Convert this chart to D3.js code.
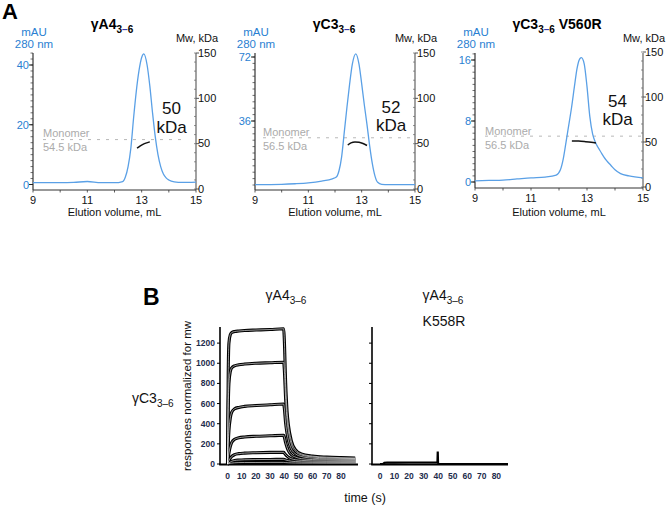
<!DOCTYPE html>
<html><head><meta charset="utf-8">
<script src="https://cdn.jsdelivr.net/npm/d3@7"></script>
<style>body{margin:0;background:#fff}svg{display:block;font-family:"Liberation Sans",Arial,sans-serif}</style>
</head><body><svg id="c" width="666" height="505"></svg>
<script>
// ================= DATA =================
// Panel A (SEC-MALS)
const elutionTicks = [9, 10, 11, 12, 13, 14, 15];
const elutionLabels = [9, 11, 13, 15];
const mwTicks = [0, 50, 100, 150];
const mwMinorTicks = d3.range(0, 151, 10);

const aTitles = [["γA4", "3–6", ""], ["γC3", "3–6", ""], ["γC3", "3–6", " V560R"]];
const aAbsTicks = [[0, 20, 40], [36, 72], [0, 8, 16]];
const aAbsMinor = [d3.range(0, 44.1, 2), d3.range(0, 74, 3.6), d3.range(0, 16.9, 0.8)];
const aMwLabels = ["50", "52", "54"];
const aMonomerLabels = ["54.5 kDa", "56.5 kDa", "56.5 kDa"];
const aMonomerKda = [54.5, 56.5, 56.5];

const p1Vol = [9, 10, 10.5, 11, 11.5, 12, 12.3, 12.4, 12.5, 12.6, 12.7, 12.8, 12.9, 13.0, 13.08, 13.2, 13.3, 13.4, 13.5, 13.6, 13.7, 13.8, 13.9, 14.0, 14.2, 14.5, 15];
const p1Abs = [0.6, 0.6, 0.7, 1.0, 0.6, 0.6, 1.0, 2.5, 6, 12, 22, 31, 38, 42.5, 43.7, 40, 33, 24, 16, 10, 6, 3.5, 2.2, 1.5, 0.9, 0.7, 0.8];
const p1MwVol = [12.83, 12.95, 13.1, 13.3];
const p1MwKda = [45, 47.5, 50, 52];

const p2Vol = [9, 10, 10.5, 11, 11.5, 11.9, 12.05, 12.15, 12.25, 12.35, 12.45, 12.55, 12.65, 12.78, 12.9, 13.0, 13.1, 13.2, 13.3, 13.4, 13.5, 13.6, 13.75, 14, 15];
const p2Abs = [0.2, 0.4, 0.7, 1.2, 2.2, 3.5, 4.5, 8, 16, 30, 44, 57, 68, 73.8, 68, 57, 45, 34, 22, 12, 5, 1.5, 0.4, 0.2, 0.2];
const p2MwVol = [12.48, 12.6, 12.75, 12.9, 13.05, 13.2];
const p2MwKda = [48.5, 50.8, 51.8, 51.5, 50.2, 48];

const p3Vol = [9, 9.5, 10, 10.5, 11, 11.5, 11.9, 12.05, 12.15, 12.25, 12.35, 12.45, 12.55, 12.65, 12.75, 12.8, 12.9, 13.0, 13.1, 13.2, 13.3, 13.4, 13.5, 13.6, 13.7, 13.85, 14.0, 14.2, 14.5, 15];
const p3Abs = [0.15, 0.2, 0.25, 0.4, 0.55, 0.65, 0.9, 1.6, 3, 5.2, 7.5, 9.8, 12.5, 15, 16.2, 16.3, 15.5, 12.5, 8.6, 6.3, 5.2, 4.5, 3.9, 3.3, 2.8, 2.2, 1.6, 1.1, 0.8, 0.55];
const p3MwVol = [12.46, 12.7, 12.95, 13.15, 13.32];
const p3MwKda = [51.2, 51, 50.3, 49.6, 48.8];

const aVol = [p1Vol, p2Vol, p3Vol];
const aAbs = [p1Abs, p2Abs, p3Abs];
const aMwVol = [p1MwVol, p2MwVol, p3MwVol];
const aMwKda = [p1MwKda, p2MwKda, p3MwKda];

// Panel B (SPR)
const bTimeTicks = [0, 10, 20, 30, 40, 50, 60, 70, 80];
const bRespTicks = [0, 200, 400, 600, 800, 1000, 1200];
const bTime = [0, 0.5, 1, 2, 3, 5, 8, 12, 20, 30, 39.6, 40, 41, 42, 43, 45, 48, 52, 60, 70, 80, 90];
const bC1 = [0, 900, 1200, 1285, 1305, 1315, 1320, 1325, 1330, 1335, 1342, 1250, 800, 520, 380, 230, 140, 100, 78, 68, 63, 60];
const bC2 = [0, 550, 800, 920, 955, 975, 985, 992, 1000, 1005, 1010, 950, 640, 430, 320, 195, 125, 90, 70, 60, 56, 54];
const bC3 = [0, 200, 330, 460, 515, 548, 562, 572, 580, 588, 595, 560, 400, 300, 230, 150, 100, 75, 58, 50, 47, 45];
const bC4 = [0, 60, 110, 175, 215, 245, 260, 268, 275, 280, 285, 270, 210, 165, 130, 92, 68, 53, 44, 40, 37, 36];
const bC5 = [0, 18, 35, 58, 75, 93, 103, 108, 112, 115, 116, 110, 92, 78, 66, 52, 42, 36, 31, 28, 27, 26];
const bC6 = [0, 6, 12, 20, 27, 35, 39, 42, 44, 45, 46, 44, 40, 36, 33, 28, 24, 21, 19, 18, 17, 17];
const bC7 = [0, 2, 4, 7, 9, 12, 14, 15, 15, 16, 16, 15, 14, 13, 12, 11, 10, 9, 9, 8, 8, 8];
const bWtCurves = [bC1, bC2, bC3, bC4, bC5, bC6, bC7];
const bMutTime = [0, 2, 3, 5, 10, 20, 30, 39.5, 39.7, 39.9, 40.3, 50, 60, 70, 80, 88];
const bMutResp = [0, 0, 12, 15, 14, 15, 15, 15, 125, 10, 0, 0, 0, 0, 0, 0];

// ================= DRAW =================
const svg = d3.select("#c");
const BLUE_TXT = "#2a7fd2", BLUE_LINE = "#5aa0e6";

// layout of panel A
const aLayout = [
  {x0: 33, x1: 196, axisY: 190, top: 53, absDom: [0, 40], absRng: [184.5, 65], mwRng: [189, 53], titleX: 112, mwX: 171.5, mwY: [114, 133], monoX: 43, monoEnd: 186, monoY: [137, 151]},
  {x0: 255, x1: 415, axisY: 190, top: 53, absDom: [0, 72], absRng: [185, 57], mwRng: [189, 53], titleX: 334, mwX: 391, mwY: [113, 131], monoX: 263, monoEnd: 414, monoY: [136, 150]},
  {x0: 475, x1: 643, axisY: 188, top: 53, absDom: [0, 16], absRng: [182, 60], mwRng: [187, 52], titleX: 557, mwX: 617.5, mwY: [107, 125], monoX: 485, monoEnd: 641, monoY: [135, 149]}
];

svg.append("text").attr("x", 2).attr("y", 19).attr("font-size", 22).attr("font-weight", "bold").text("A");

aLayout.forEach((L, i) => {
  const g = svg.append("g");
  const x = d3.scaleLinear().domain([9, 15]).range([L.x0, L.x1]);
  const yA = d3.scaleLinear().domain(L.absDom).range(L.absRng);
  const yM = d3.scaleLinear().domain([0, 150]).range(L.mwRng);

  // title
  const t = g.append("text").attr("x", L.titleX).attr("y", 29).attr("text-anchor", "middle")
    .attr("font-size", 14).attr("font-weight", "bold");
  t.append("tspan").text(aTitles[i][0]);
  const sub = t.append("tspan").attr("dy", 4).attr("font-size", 10);
  sub.append("tspan").text("3");
  sub.append("tspan").attr("fill", "#3a3aa8").text("–");
  sub.append("tspan").text("6");
  if (aTitles[i][2]) t.append("tspan").attr("dy", -4).attr("font-size", 14).text(aTitles[i][2]);

  // axis labels
  g.append("text").attr("x", L.x0 + 1).attr("y", 36).attr("text-anchor", "middle").attr("font-size", 11.5).attr("fill", BLUE_TXT).text("mAU");
  g.append("text").attr("x", L.x0 + 1).attr("y", 48).attr("text-anchor", "middle").attr("font-size", 11.5).attr("fill", BLUE_TXT).text("280 nm");
  g.append("text").attr("x", L.x1 + 1).attr("y", 42).attr("text-anchor", "middle").attr("font-size", 11).attr("fill", "#111").text("Mw, kDa");
  g.append("text").attr("x", (L.x0 + L.x1) / 2).attr("y", 216).attr("text-anchor", "middle").attr("font-size", 11).attr("fill", "#111").text("Elution volume, mL");

  // left axis
  g.append("line").attr("x1", L.x0).attr("x2", L.x0).attr("y1", L.top).attr("y2", L.axisY).attr("stroke", "#222").attr("stroke-width", 1.1);
  aAbsMinor[i].forEach(v => {
    g.append("line").attr("x1", L.x0 - 2.5).attr("x2", L.x0).attr("y1", yA(v)).attr("y2", yA(v)).attr("stroke", "#333").attr("stroke-width", 0.7);
  });
  aAbsTicks[i].forEach(v => {
    g.append("line").attr("x1", L.x0 - 4).attr("x2", L.x0).attr("y1", yA(v)).attr("y2", yA(v)).attr("stroke", "#222");
    g.append("text").attr("x", L.x0 - 4).attr("y", yA(v) + 4).attr("text-anchor", "end").attr("font-size", 11).attr("fill", BLUE_TXT).text(v);
  });

  // right axis
  g.append("line").attr("x1", L.x1).attr("x2", L.x1).attr("y1", L.top).attr("y2", L.axisY).attr("stroke", "#555").attr("stroke-width", 1.1);
  mwMinorTicks.forEach(v => {
    g.append("line").attr("x1", L.x1 - 2).attr("x2", L.x1).attr("y1", yM(v)).attr("y2", yM(v)).attr("stroke", "#666").attr("stroke-width", 0.7);
  });
  mwTicks.forEach(v => {
    g.append("line").attr("x1", L.x1).attr("x2", L.x1 + 3).attr("y1", yM(v)).attr("y2", yM(v)).attr("stroke", "#555");
    g.append("text").attr("x", L.x1 + 2).attr("y", yM(v) + 3.5).attr("font-size", 11).attr("fill", "#111").text(v);
  });

  // bottom axis
  g.append("line").attr("x1", L.x0).attr("x2", L.x1).attr("y1", L.axisY).attr("y2", L.axisY).attr("stroke", "#333").attr("stroke-width", 1);
  elutionTicks.forEach(v => {
    g.append("line").attr("x1", x(v)).attr("x2", x(v)).attr("y1", L.axisY).attr("y2", L.axisY + 2.5).attr("stroke", "#333").attr("stroke-width", 0.8);
  });
  elutionLabels.forEach(v => {
    g.append("text").attr("x", x(v)).attr("y", L.axisY + 13.5).attr("text-anchor", "middle").attr("font-size", 11).attr("fill", "#111").text(v);
  });

  // monomer reference
  g.append("line").attr("x1", L.monoX).attr("x2", L.monoEnd).attr("y1", yM(aMonomerKda[i])).attr("y2", yM(aMonomerKda[i]))
    .attr("stroke", "#b8b8b8").attr("stroke-width", 1).attr("stroke-dasharray", "3,6");
  g.append("text").attr("x", L.monoX).attr("y", L.monoY[0]).attr("font-size", 11).attr("fill", "#ababab").text("Monomer");
  g.append("text").attr("x", L.monoX).attr("y", L.monoY[1]).attr("font-size", 11).attr("fill", "#ababab").text(aMonomerLabels[i]);

  // absorbance trace
  const absPts = aVol[i].map((v, k) => [v, aAbs[i][k]]);
  g.append("path").datum(absPts).attr("fill", "none").attr("stroke", BLUE_LINE).attr("stroke-width", 1.3)
    .attr("d", d3.line().x(d => x(d[0])).y(d => yA(d[1])).curve(d3.curveMonotoneX));

  // Mw trace
  const mwPts = aMwVol[i].map((v, k) => [v, aMwKda[i][k]]);
  g.append("path").datum(mwPts).attr("fill", "none").attr("stroke", "#111").attr("stroke-width", 1.5)
    .attr("d", d3.line().x(d => x(d[0])).y(d => yM(d[1])).curve(d3.curveMonotoneX));

  // Mw label
  g.append("text").attr("x", L.mwX).attr("y", L.mwY[0]).attr("text-anchor", "middle").attr("font-size", 17).attr("fill", "#111").text(aMwLabels[i]);
  g.append("text").attr("x", L.mwX).attr("y", L.mwY[1]).attr("text-anchor", "middle").attr("font-size", 17).attr("fill", "#111").text("kDa");
});

// ---------- Panel B ----------
svg.append("text").attr("x", 143).attr("y", 305).attr("font-size", 23).attr("font-weight", "bold").text("B");

const yB = d3.scaleLinear().domain([0, 1360]).range([464, 327]);
const xBL = d3.scaleLinear().domain([-5.3, 92]).range([220, 358]);
const xBR = d3.scaleLinear().domain([-5.5, 88]).range([372, 508]);
const TICK_TXT = "#1d2c4c";
const tickFont = '"Liberation Sans Narrow","Arial Narrow","Liberation Sans",Arial,sans-serif';

function subTitle(x, y, main) {
  const t = svg.append("text").attr("x", x).attr("y", y).attr("text-anchor", "middle").attr("font-size", 14).attr("fill", "#111");
  t.append("tspan").text(main);
  t.append("tspan").attr("dy", 4).attr("font-size", 10).text("3–6");
  return t;
}
subTitle(286, 300, "γA4");
subTitle(443, 300, "γA4");
svg.append("text").attr("x", 444).attr("y", 326).attr("text-anchor", "middle").attr("font-size", 14).attr("fill", "#111").text("K558R");
{
  const t = svg.append("text").attr("x", 132).attr("y", 403).attr("font-size", 14).attr("fill", "#111");
  t.append("tspan").text("γC3");
  t.append("tspan").attr("dy", 4).attr("font-size", 10).text("3–6");
}
svg.append("text").attr("transform", "translate(191,396) rotate(-90)").attr("text-anchor", "middle").attr("font-size", 11.5).attr("fill", "#111").text("responses normalized for mw");
svg.append("text").attr("x", 365).attr("y", 502).attr("text-anchor", "middle").attr("font-size", 12.5).attr("fill", "#111").text("time (s)");

function bAxes(xs, x0, x1, labelsY) {
  svg.append("line").attr("x1", x0).attr("x2", x0).attr("y1", 327).attr("y2", 465).attr("stroke", "#000").attr("stroke-width", 1.6);
  svg.append("line").attr("x1", x0 - 0.8).attr("x2", x1).attr("y1", 464.5).attr("y2", 464.5).attr("stroke", "#000").attr("stroke-width", 1.8);
  bRespTicks.forEach(v => {
    svg.append("line").attr("x1", x0 - 3).attr("x2", x0).attr("y1", yB(v)).attr("y2", yB(v)).attr("stroke", "#000").attr("stroke-width", 1);
    if (labelsY) svg.append("text").attr("x", x0 - 5).attr("y", yB(v) + 3).attr("text-anchor", "end")
      .attr("font-family", tickFont).attr("font-weight", "bold").attr("font-size", 8.5).attr("fill", TICK_TXT).text(v);
  });
  bTimeTicks.forEach(v => {
    svg.append("text").attr("x", xs(v)).attr("y", 479).attr("text-anchor", "middle")
      .attr("font-family", tickFont).attr("font-weight", "bold").attr("font-size", 8.5).attr("fill", TICK_TXT).text(v);
  });
}
bAxes(xBL, 220, 358, true);
bAxes(xBR, 372, 508, false);

const lineL = d3.line().x((d, k) => xBL(bTime[k])).y(d => yB(d)).curve(d3.curveMonotoneX);
bWtCurves.forEach(c => {
  svg.append("path").datum(c).attr("fill", "none").attr("stroke", "#000").attr("stroke-width", 3.1).attr("d", lineL);
});
bWtCurves.forEach(c => {
  svg.append("path").datum(c).attr("fill", "none").attr("stroke", "#fff").attr("stroke-width", 0.6).attr("d", lineL);
});

const mutPts = bMutTime.map((t, k) => [t, bMutResp[k]]);
svg.append("path").datum(mutPts).attr("fill", "none").attr("stroke", "#000").attr("stroke-width", 2.2)
  .attr("d", d3.line().x(d => xBR(d[0])).y(d => yB(d[1])));
</script></body></html>
